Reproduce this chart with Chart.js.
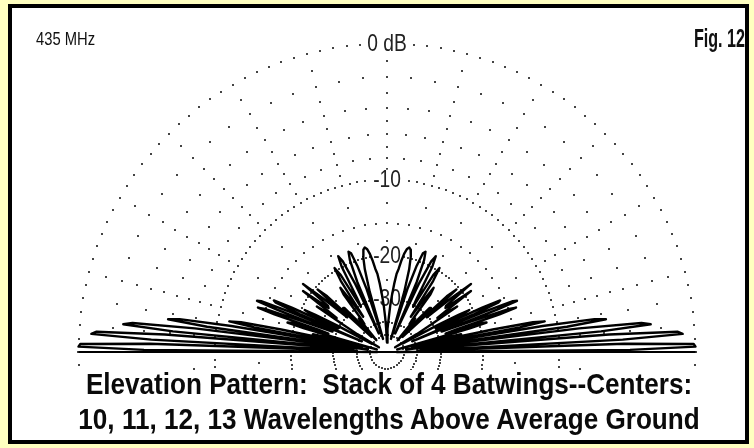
<!DOCTYPE html>
<html>
<head>
<meta charset="utf-8">
<script src="https://cdn.jsdelivr.net/npm/chart.js@4.4.1/dist/chart.umd.min.js"></script>
<style>
  html, body { margin: 0; padding: 0; width: 754px; height: 448px; overflow: hidden; background: #FFFFC0; }
  #frame { position: absolute; left: 8px; top: 4px; width: 741px; height: 440px; box-sizing: border-box;
           border: 4px solid #000; background: #fff; }
  #plot { position: absolute; left: 0; top: 0; }
  .txt { position: absolute; font-family: "Liberation Sans", Arial, sans-serif; color: #111; white-space: nowrap;
         line-height: 1; }
  #freq { left: 36px; top: 30px; font-size: 18px; transform-origin: left top; transform: scaleX(0.82); }
  #fig { left: 745px; top: 25px; font-size: 26px; font-weight: bold; transform-origin: right top;
         transform: translateX(-100%) scaleX(0.62); }
  .title { left: 389px; font-size: 30px; font-weight: bold; color: #0a0a0a;
           transform: translateX(-50%) scaleX(0.87); }
  #t1 { top: 369px; }
  #t2 { top: 404px; }
</style>
</head>
<body>
<div id="frame"></div>
<canvas id="plot" width="754" height="448"></canvas>
<div class="txt" id="freq">435 MHz</div>
<div class="txt" id="fig">Fig. 12</div>
<div class="txt title" id="t1">Elevation Pattern:&nbsp; Stack of 4 Batwings--Centers:</div>
<div class="txt title" id="t2">10, 11, 12, 13 Wavelengths Above Average Ground</div>
<script>
// Elevation angle (degrees above the left horizon) and field strength in dB
// relative to the strongest lobe; the right half of the plot is the mirror image.
const ELEVATION_DEG = [
  0, 0.5, 1, 1.5, 2, 2.5, 3, 3.5, 4, 4.5,
  5, 5.5, 6, 6.5, 7, 7.5, 8, 8.5, 9, 9.5,
  10, 10.5, 11, 11.5, 12, 12.5, 13, 13.5, 14, 14.5,
  15, 15.5, 16, 16.5, 17, 17.5, 18, 18.5, 19, 19.5,
  20, 20.5, 21, 21.5, 22, 22.5, 23, 23.5, 24, 24.5,
  25, 25.5, 26, 26.5, 27, 27.5, 28, 28.5, 29, 29.5,
  30, 31, 32, 33, 34, 35, 36, 37, 38, 39,
  40, 41, 42, 43, 44, 45, 46, 47, 48, 49,
  50, 51, 52, 53, 54, 55, 56, 57, 58, 59,
  60, 61, 62, 63, 64, 65, 66, 67, 68, 69,
  70, 71, 72, 73, 74, 75, 76, 77, 78, 79,
  80, 81, 82, 83, 84, 85, 86, 87, 88, 89,
  90
];
const GAIN_DB = [
  -60, -4.1, 0.0, -0.1, -4.5, -39.8, -4.6, -0.7, -1.0, -5.6,
  -37.9, -6.2, -2.6, -3.2, -8.0, -47.6, -9.1, -5.7, -6.6, -11.5,
  -43.0, -14.2, -11.2, -12.5, -18.0, -39.4, -24.6, -24.0, -29.5, -58,
  -45.7, -30.7, -21.9, -18.7, -19.5, -27.7, -24.9, -16.4, -14.0, -15.1,
  -21.2, -28.6, -16.5, -13.6, -14.1, -18.4, -41.6, -20.2, -15.9, -15.6,
  -18.5, -27.4, -29.9, -22.0, -20.7, -22.9, -28.9, -48.7, -37.4, -37.8,
  -60, -37.5, -30.4, -22.4, -27.9, -24.1, -18.7, -24.7, -24.3, -18.0,
  -22.4, -30.3, -20.5, -22.8, -45.6, -27.5, -27.8, -37.5, -51, -44.3,
  -33.5, -37, -34.5, -24.9, -23.3, -28, -34, -22.2, -19.5, -21.2,
  -30.5, -27.6, -20.0, -18.1, -19.2, -24.3, -46.8, -24.1, -19.5, -18.1,
  -18.5, -20.9, -26.2, -53.5, -27.4, -22.0, -19.6, -18.5, -18.2, -18.5,
  -19.3, -20.6, -22.3, -23.4, -25.9, -29, -32.5, -37.5, -44.5, -56.5,
  -60
];

// Grid levels on the ARRL log-periodic scale
const RING_MAJOR_DB = [0, -10, -20, -30, -40, -50];
const RING_MINOR_DB = [-2, -4, -6, -8, -15];
const RADIAL_TICK_DB = [-1, -2, -3, -4, -5, -6, -7, -8, -9, -12.5, -15, -17.5, -25];
const RING_LABEL_DB = [0, -10, -20, -30];
const RING_LABELS = ['0 dB', '-10', '-20', '-30'];

// ARRL scale: each 2 dB step shrinks the radius by a factor 0.89
function arrlRadius(db) { return Math.pow(0.89, -db / 2); }

function toXY(elevDeg, db) {
  const r = arrlRadius(db);
  const a = elevDeg * Math.PI / 180;
  return { x: -r * Math.cos(a), y: r * Math.sin(a) };
}

const patternPoints = [];
ELEVATION_DEG.forEach((e, i) => patternPoints.push(toXY(e, GAIN_DB[i])));
for (let i = ELEVATION_DEG.length - 2; i >= 0; i--) {
  patternPoints.push(toXY(180 - ELEVATION_DEG[i], GAIN_DB[i]));
}

const polarGrid = {
  id: 'polarGrid',
  beforeDatasetsDraw(chart) {
    const { ctx, chartArea: ca, scales: { x, y } } = chart;
    const cx = x.getPixelForValue(0);
    const cy = y.getPixelForValue(0);
    const R = x.getPixelForValue(1) - cx;
    ctx.save();
    ctx.beginPath();
    ctx.rect(ca.left, ca.top, ca.right - ca.left, ca.bottom - ca.top);
    ctx.clip();

    ctx.fillStyle = '#444';
    const dot = (r, deg) => {
      const a = deg * Math.PI / 180;
      ctx.fillRect(Math.round(cx + r * Math.cos(a)) - 1, Math.round(cy - r * Math.sin(a)) - 1, 2, 2);
    };
    RING_MAJOR_DB.forEach(db => {
      const r = R * arrlRadius(db);
      const step = Math.max(2.5, 3.2 / r * 180 / Math.PI);
      for (let d = 0; d < 360; d += step) dot(r, d);
    });
    RING_MINOR_DB.forEach(db => {
      const r = R * arrlRadius(db);
      for (let d = 0; d < 360; d += 5) dot(r, d);
    });
    for (let d = 0; d < 360; d += 15) {
      RADIAL_TICK_DB.forEach(db => dot(R * arrlRadius(db), d));
    }

    // horizon line
    ctx.fillStyle = '#000';
    ctx.fillRect(cx - R, cy - 1, 2 * R, 2);

    // ring labels
    ctx.font = '24px "Liberation Sans", Arial, sans-serif';
    ctx.textAlign = 'center';
    ctx.textBaseline = 'middle';
    const sx = 0.8;
    RING_LABEL_DB.forEach((db, i) => {
      const ly = cy - R * arrlRadius(db);
      const w = ctx.measureText(RING_LABELS[i]).width * sx;
      ctx.fillStyle = '#fff';
      ctx.fillRect(cx - w / 2 - 3, ly - 10, w + 6, 20);
      ctx.save();
      ctx.translate(cx, ly + 1);
      ctx.scale(sx, 1);
      ctx.fillStyle = '#222';
      ctx.fillText(RING_LABELS[i], 0, 0);
      ctx.restore();
    });
    ctx.restore();
  }
};

new Chart(document.getElementById('plot'), {
  type: 'scatter',
  data: {
    datasets: [{
      data: patternPoints,
      showLine: true,
      borderColor: '#000',
      borderWidth: 2.4,
      borderJoinStyle: 'round',
      pointRadius: 0,
      tension: 0
    }]
  },
  options: {
    responsive: false,
    animation: false,
    events: [],
    layout: { padding: { left: 63, right: 43, top: 28, bottom: 78 } },
    plugins: { legend: { display: false }, tooltip: { enabled: false } },
    scales: {
      x: { type: 'linear', min: -1.05, max: 1.05, display: false },
      y: { type: 'linear', min: -0.05833, max: 1.05, display: false }
    }
  },
  plugins: [polarGrid]
});
</script>
</body>
</html>
